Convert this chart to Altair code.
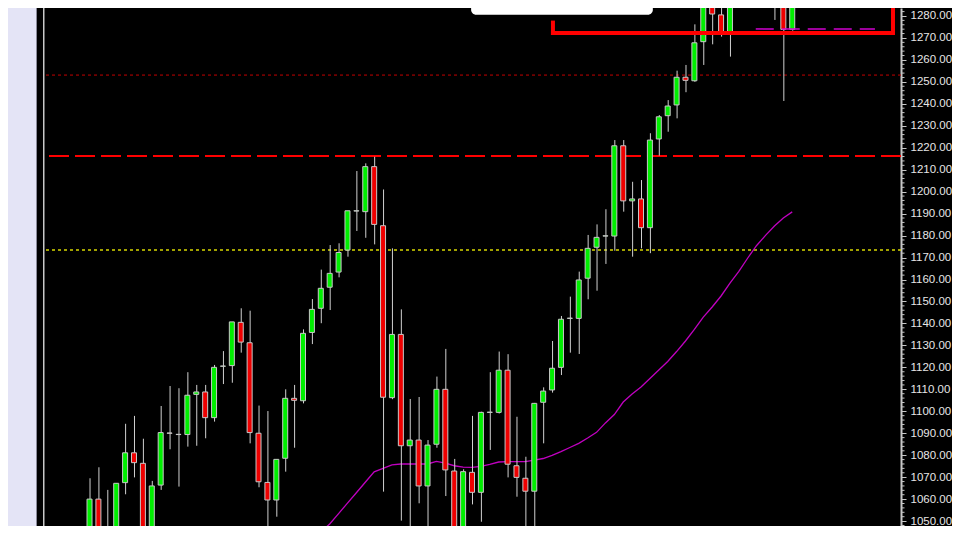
import altair as alt
import pandas as pd

# ---- candle data (bar index, OHLC) ----
bar_index = list(range(0, 74)) + [78, 79, 80]
opens = [1030, 1036, 1060.0, 1040, 1035, 1067.5, 1081.1, 1076.3, 1036, 1066.4,
         1090.1, 1089.4, 1089.4, 1107.7, 1108.8, 1097.1, 1120.5, 1120.8, 1140.5, 1131.2,
         1090.0, 1067.6, 1059.6, 1078.6, 1105.9, 1104.8, 1135.9, 1146.9, 1156.5, 1163.4,
         1173.4, 1191.2, 1190.9, 1211.4, 1184.5, 1106.2, 1135.0, 1084.3, 1086.9, 1066.0,
         1085.0, 1110.0, 1072.8, 1036, 1072.2, 1063.1, 1099.5, 1099.5, 1118.7, 1075.2,
         1069.5, 1063.6, 1104.1, 1109.7, 1120.0, 1142.3, 1142.3, 1160.6, 1174.7, 1179.8,
         1179.8, 1220.9, 1195.8, 1196.7, 1183.6, 1224.0, 1234.6, 1239.5, 1252.1, 1250.5,
         1268.3, 1292.0, 1280.5, 1272.9, 1292.0, 1294.0, 1273.9]
highs = [1042.4, 1069.5, 1074.5, 1064.2, 1067.2, 1094.3, 1097.9, 1087.5, 1068.3, 1102.4,
         1111.5, 1110.5, 1117.8, 1112.0, 1112.0, 1121.1, 1127.4, 1140.7, 1146.9, 1145.8,
         1102.6, 1100.1, 1078.1, 1110.0, 1112.0, 1137.3, 1151.1, 1164.5, 1175.7, 1176.5,
         1191.3, 1209.4, 1212.9, 1215.9, 1201.0, 1174.2, 1146.4, 1105.6, 1106.5, 1086.9,
         1115.8, 1128.4, 1078.3, 1073.6, 1097.9, 1099.8, 1117.8, 1127.2, 1126.0, 1097.5,
         1079.3, 1103.8, 1110.9, 1132.0, 1143.4, 1152.2, 1163.6, 1180.3, 1185.1, 1192.0,
         1223.5, 1223.5, 1204.5, 1205.3, 1226.6, 1234.9, 1241.7, 1255.1, 1257.7, 1276.2,
         1294.0, 1296.0, 1290.0, 1295.0, 1300.0, 1298.0, 1296.0]
lows = [1026, 1032, 1034, 1025, 1030, 1062.2, 1069.9, 1032, 1030, 1064.2,
        1082.7, 1065.7, 1083.9, 1084.3, 1087.7, 1095.3, 1112.4, 1113.0, 1126.7, 1085.4,
        1065.4, 1036, 1052.0, 1072.5, 1083.4, 1103.6, 1130.6, 1140.1, 1146.1, 1161.0,
        1170.4, 1182.1, 1179.0, 1176.0, 1063.4, 1105.5, 1050.2, 1035, 1058.1, 1035,
        1083.4, 1061.4, 1030, 1030, 1057.6, 1049.7, 1082.4, 1099.0, 1069.9, 1061.1,
        1035, 1036, 1085.4, 1108.5, 1116.5, 1126.7, 1126.1, 1151.0, 1154.9, 1167.1,
        1173.1, 1190.9, 1170.4, 1174.2, 1172.0, 1216.4, 1227.3, 1233.4, 1245.3, 1250.0,
        1257.7, 1267.1, 1270.6, 1261.5, 1278.2, 1241.3, 1273.3]
closes = [1038, 1060.0, 1038, 1032, 1067.2, 1081.1, 1076.6, 1038, 1066.0, 1090.3,
          1090.0, 1089.5, 1107.3, 1108.8, 1097.1, 1120.0, 1120.6, 1140.7, 1131.5, 1090.3,
          1067.9, 1059.6, 1078.1, 1105.9, 1105.0, 1135.5, 1146.4, 1156.0, 1162.8, 1172.3,
          1191.3, 1191.3, 1211.4, 1185.1, 1106.4, 1135.0, 1084.3, 1086.9, 1066.0, 1084.6,
          1110.0, 1073.3, 1036, 1072.5, 1063.1, 1099.5, 1099.6, 1118.7, 1075.9, 1069.9,
          1063.6, 1103.6, 1109.2, 1119.6, 1141.9, 1142.4, 1159.8, 1174.2, 1179.2, 1179.9,
          1220.9, 1195.8, 1196.7, 1183.6, 1223.5, 1234.1, 1239.0, 1252.1, 1250.7, 1267.8,
          1290.0, 1280.9, 1272.9, 1291.0, 1296.0, 1273.9, 1292.0]

# ---- moving average (magenta) ----
ma_index = list(range(25, 81))
ma_values = [1040.9, 1042.7, 1045.0, 1048.7, 1053.4, 1058.2, 1062.9, 1067.7, 1072.4, 1074.0,
             1075.6, 1076.0, 1076.0, 1076.0, 1076.0, 1077.2, 1076.4, 1075.2, 1074.6, 1074.5,
             1074.9, 1075.8, 1076.9, 1077.1, 1077.1, 1077.1, 1077.8, 1078.5, 1079.9, 1081.6,
             1083.5, 1085.4, 1087.8, 1090.4, 1094.7, 1098.5, 1104.2, 1107.9, 1111.1, 1114.9,
             1118.8, 1122.7, 1127.2, 1132.0, 1137.3, 1142.9, 1147.5, 1152.5, 1158.4, 1163.7,
             1169.8, 1175.5, 1180.1, 1184.4, 1188.0, 1190.8]

# ---- horizontal levels ----
level_values = [1253.1, 1216.2, 1173.4]
level_names = ["dotted_red", "dashed_red", "dotted_yellow"]

# ---- consolidation zone annotation ----
zone_left, zone_right = 53.1, 91.33
zone_bottom, zone_left_top, zone_top = 1272.3, 1277.0, 1300.0
proj_start, proj_end, proj_value = 75.9, 89.3, 1274.1
label_left, label_right, label_bottom, label_top = 43.9, 64.33, 1280.6, 1296.0
label_x, label_y, label_text = 53.4, 1285.5, "Consolidation Zone"

# ---- price axis ticks ----
major_ticks = list(range(1050, 1290, 10))
minor_ticks = [v for v in range(1048, 1284, 2) if v % 10 != 0]

X_DOMAIN = [-32 / 9, 825 / 9]
Y_DOMAIN = [1047.76, 1283.64]
W, H = 857, 518

xs = alt.Scale(domain=X_DOMAIN, nice=False, zero=False)
ys = alt.Scale(domain=Y_DOMAIN, nice=False, zero=False)

yaxis = alt.Axis(
    orient="right", values=major_ticks, title=None, grid=False,
    format=".2f", tickSize=5, labelPadding=4, labelOverlap=False, labelFlush=False,
    labelFont="Liberation Sans", labelFontSize=11.5, labelColor="#e6e6e6",
    domainColor="#c8c8c8", domainWidth=2, tickColor="#c8c8c8", tickWidth=1)


def Y(field):
    return alt.Y(field, scale=ys, axis=yaxis)


def X(field):
    return alt.X(field, scale=xs, axis=None)


candles = pd.DataFrame({"i": bar_index, "open": opens, "high": highs,
                        "low": lows, "close": closes})
ma_df = pd.DataFrame({"i": ma_index, "ma": ma_values})
one = alt.Data(values=[{}])

# left side panel decorations
left_panel = alt.Chart(one).mark_rect(color="#e4e4f6", clip=False).encode(
    x=alt.value(-36), x2=alt.value(-8), y=alt.value(0), y2=alt.value(H))
left_gray = alt.Chart(one).mark_rect(color="#8a8a9a", clip=False).encode(
    x=alt.value(-8), x2=alt.value(-7), y=alt.value(0), y2=alt.value(H))
left_line = alt.Chart(one).mark_rect(color="#c8c8c8", clip=False).encode(
    x=alt.value(-1), x2=alt.value(0.5), y=alt.value(0), y2=alt.value(H))

minor = pd.DataFrame({"v": minor_ticks})
minor_layer = alt.Chart(minor).mark_rule(color="#c8c8c8", strokeWidth=1, clip=False).encode(
    x=alt.value(W + 1), x2=alt.value(W + 3.5), y=Y("v:Q"))

lv = pd.DataFrame({"v": level_values, "name": level_names})
lvl_dotted_red = alt.Chart(lv[lv.name == "dotted_red"]).mark_rule(
    color="#c40000", strokeWidth=1, strokeDash=[3, 3]).encode(y=Y("v:Q"))
lvl_dashed_red = alt.Chart(lv[lv.name == "dashed_red"]).mark_rule(
    color="#ff0000", strokeWidth=2, strokeDash=[20, 6]).encode(y=Y("v:Q"))
lvl_dotted_yellow = alt.Chart(lv[lv.name == "dotted_yellow"]).mark_rule(
    color="#d8d800", strokeWidth=1.5, strokeDash=[3, 3]).encode(y=Y("v:Q"))

ma_line = alt.Chart(ma_df).mark_line(color="#c000c0", strokeWidth=1.3, clip=True).encode(
    x=X("i:Q"), y=Y("ma:Q"))

wicks = alt.Chart(candles).mark_rule(color="#d0d0d0", strokeWidth=1, xOffset=0.5,
                                     clip=True).encode(
    x=X("i:Q"), y=Y("low:Q"), y2="high:Q")

bodies = alt.Chart(candles).mark_bar(size=5, stroke="#c8c8c8", strokeWidth=1,
                                     clip=True).encode(
    x=X("i:Q"), y=Y("open:Q"), y2="close:Q",
    fill=alt.condition("datum.close >= datum.open", alt.value("#00ee00"),
                       alt.value("#ee0000")))

zone = pd.DataFrame({"x1": [zone_left, zone_right, zone_left],
                     "x2": [zone_right, zone_right, zone_left],
                     "y1": [zone_bottom, zone_bottom, zone_bottom],
                     "y2": [zone_bottom, zone_top, zone_left_top]})
zone_rules = alt.Chart(zone).mark_rule(color="#ff0000", strokeWidth=4,
                                       strokeCap="square", clip=True).encode(
    x=X("x1:Q"), x2="x2:Q", y=Y("y1:Q"), y2="y2:Q")

proj = pd.DataFrame({"a": [proj_start], "b": [proj_end], "v": [proj_value]})
proj_line = alt.Chart(proj).mark_rule(color="#d000d0", strokeWidth=1.5,
                                      strokeDash=[18, 8], clip=True).encode(
    x=X("a:Q"), x2="b:Q", y=Y("v:Q"))

lbl = pd.DataFrame({"l": [label_left], "r": [label_right], "b": [label_bottom],
                    "t": [label_top], "x": [label_x], "y": [label_y], "txt": [label_text]})
label_box = alt.Chart(lbl).mark_rect(color="#ffffff", cornerRadius=5, clip=True).encode(
    x=X("l:Q"), x2="r:Q", y=Y("b:Q"), y2="t:Q")
label_txt = alt.Chart(lbl).mark_text(font="Noto Sans", fontSize=16, color="#333333",
                                     baseline="alphabetic", clip=True).encode(
    x=X("x:Q"), y=Y("y:Q"), text="txt:N")

chart = alt.layer(
    left_panel, left_gray, left_line,
    lvl_dotted_red, lvl_dashed_red, lvl_dotted_yellow,
    ma_line, wicks, bodies, zone_rules, proj_line, label_box, label_txt, minor_layer
).properties(
    width=W, height=H,
    autosize=alt.AutoSizeParams(type="none"),
    padding={"left": 36, "right": 51, "top": 0, "bottom": 0},
    background="#000000"
).configure_view(stroke=None)

chart.save("out.html", embed_options={"renderer": "svg", "actions": False})
